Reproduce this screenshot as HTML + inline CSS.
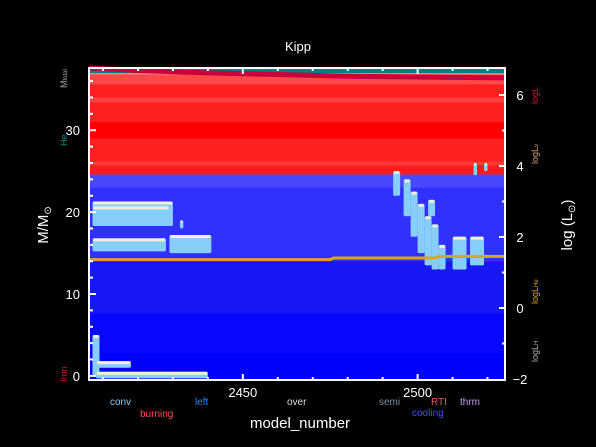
<!DOCTYPE html>
<html><head><meta charset="utf-8"><style>
html,body{margin:0;padding:0;background:#000;}
svg{display:block;font-family:"Liberation Sans",sans-serif;}
</style></head><body>
<svg id="c" width="596" height="447" viewBox="0 0 596 447">
<g id="plot"></g>
<g id="axes"></g>
<text x="298" y="51" fill="#fff" font-size="13" text-anchor="middle">Kipp</text>
<text x="300" y="428" fill="#fff" font-size="15" text-anchor="middle">model_number</text>
<text transform="translate(48,225) rotate(-90)" fill="#fff" font-size="15" text-anchor="middle">M/M<tspan font-size="10" dy="3">⊙</tspan></text>
<text transform="translate(572,225) rotate(-90)" fill="#fff" font-size="15" text-anchor="middle">log (L<tspan font-size="10" dy="3">⊙</tspan><tspan dy="-3">)</tspan></text>
<g font-size="10">
<text x="110" y="405" fill="#87cefa">conv</text>
<text x="140" y="417" fill="#ff5050">burning</text>
<text x="195" y="405" fill="#1e90ff">left</text>
<text x="287" y="405" fill="#ddd">over</text>
<text x="379" y="405" fill="#8090a0">semi</text>
<text x="431" y="405" fill="#e06060">RTI</text>
<text x="460" y="405" fill="#c0a0f0">thrm</text>
<text x="412" y="416" fill="#4050ff">cooling</text>
</g>
<g font-size="9">
<text transform="translate(67,88) rotate(-90)" fill="#aaa">M<tspan font-size="6">total</tspan></text>
<text transform="translate(67,146) rotate(-90)" fill="#008b8b">He</text>
<text transform="translate(67,382) rotate(-90)" fill="#dc143c">Iron</text>
<text transform="translate(538,104) rotate(-90)" fill="#dc143c">logL</text>
<text transform="translate(538,164) rotate(-90)" fill="#d2a070">logL<tspan font-size="6">ν</tspan></text>
<text transform="translate(538,304) rotate(-90)" fill="#daa520">logL<tspan font-size="6">He</tspan></text>
<text transform="translate(538,362) rotate(-90)" fill="#aaa">logL<tspan font-size="6">H</tspan></text>
</g>
</svg>
<script>
const xMin=2406,xMax=2525,mMin=-0.5,mMax=37.6;
const X0=89,X1=505,Y0=68,Y1=380;
const layerTops=[37.6,36.8,35.6,34.0,33.4,31.0,29.0,26.2,25.7,24.6,23.0,14.0,7.7,2.8];
const layerColors=["#ff7a7a","#ff4848","#ff2020","#ff4040","#ff2020","#ff0000","#ff2020","#ff3838","#ff1c1c","#4848ff","#3030ff","#1818f4","#0808ff","#0000ff"];
const heModels=[2406,2475,2476,2505,2506,2525];
const heMass=[14.2,14.2,14.4,14.4,14.6,14.6];
const topRedModels=[2406,2420,2440,2460,2480,2500,2525];
const topRedMass=[37.6,37.3,37.0,36.8,36.6,36.5,36.4];
const convModel0=[2407,2407,2432,2407,2429,2407,2408,2408,2493,2496,2498,2500,2502,2504,2506,2503,2510,2515,2516,2519];
const convModel1=[2430,2429,2433,2428,2441,2409,2418,2440,2495,2498,2500,2502,2504,2506,2508,2505,2514,2519,2517,2520];
const convTop=[21.3,20.7,19.0,16.8,17.2,5.0,1.8,0.5,25.0,24.0,22.5,21.0,19.5,18.5,16.0,21.5,17.0,17.0,26.0,26.0];
const convBot=[18.3,18.5,18.0,15.2,15.0,0.0,1.0,-0.3,22.0,19.5,17.0,15.0,13.5,13.0,13.0,19.5,13.0,13.5,24.5,25.0];
const xs=m=>X0+(m-xMin)/(xMax-xMin)*(X1-X0);
const ys=v=>Y1-(v-mMin)/(mMax-mMin)*(Y1-Y0);
const NS="http://www.w3.org/2000/svg";
const plot=document.getElementById('plot'),axes=document.getElementById('axes');
function mk(tag,a,p){const e=document.createElementNS(NS,tag);for(const k in a)e.setAttribute(k,a[k]);p.appendChild(e);return e;}
for(let i=0;i<layerTops.length;i++){
  const top=layerTops[i],bot=i+1<layerTops.length?layerTops[i+1]:mMin;
  const r=mk('rect',{x:X0,y:ys(top),width:X1-X0,height:ys(bot)-ys(top)+0.5,fill:layerColors[i]},plot);
  
  
}
const tr=mk('rect',{x:X0,y:Y0,width:X1-X0,height:5,fill:"#008080"},plot);


let pts=topRedModels.map((m,i)=>xs(m)+","+ys(topRedMass[i])).join(" ");
const topR=mk('polyline',{points:pts,fill:"none",stroke:"#c8003c","stroke-width":5},plot);


for(let i=0;i<convModel0.length;i++){
  const x=xs(convModel0[i]),w=Math.max(3,xs(convModel1[i])-x),y=ys(convTop[i]),h=ys(convBot[i])-y;
  const c=mk('rect',{x:x,y:y,width:w,height:h,fill:"#87cefa",rx:1.5},plot);
  
  
  const e=mk('rect',{x:x+1,y:y,width:Math.max(1,w-2),height:Math.min(3,h),fill:"#f0f0d8"},plot);
  
  
}
pts=heModels.map((m,i)=>xs(m)+","+ys(heMass[i])).join(" ");
const he=mk('polyline',{points:pts,fill:"none",stroke:"#daa520","stroke-width":3},plot);


const fr=mk('rect',{x:X0,y:Y0,width:X1-X0,height:Y1-Y0,fill:"none",stroke:"#fff","stroke-width":2},axes);


const leftTicks=[0,10,20,30];
for(let v=0;v<=36;v+=2){const y=ys(v),maj=v%10===0;
  const t=mk('line',{x1:X0,x2:X0+(maj?7:4),y1:y,y2:y,stroke:"#fff","stroke-width":2},axes);
  }
leftTicks.forEach(v=>{const t=mk('text',{x:80,y:ys(v)+5,fill:"#fff","font-size":13,"text-anchor":"end"},axes);t.textContent=v;
  });
const xTicks=[2450,2500];
for(let v=2410;v<=2520;v+=10){const x=xs(v),maj=v%50===0;
  [[Y1,Y1-(maj?6:3)],[Y0,Y0+(maj?6:3)]].forEach(p=>{const t=mk('line',{x1:x,x2:x,y1:p[0],y2:p[1],stroke:"#fff","stroke-width":2},axes);
  });}
xTicks.forEach(v=>{const t=mk('text',{x:xs(v),y:397,fill:"#fff","font-size":13,"text-anchor":"middle"},axes);t.textContent=v;
  });
const lMin=-2,ly=v=>379-(v-lMin)/(4-lMin)*(379-166);
const rightTicks=[-2,0,2,4,6];
for(let v=-1;v<=6;v++){const y=ly(v),maj=v%2===0;
  const t=mk('line',{x1:X1,x2:X1-(maj?6:3),y1:y,y2:y,stroke:"#fff","stroke-width":2},axes);
  }
rightTicks.forEach(v=>{const t=mk('text',{x:520,y:ly(v)+5,fill:"#fff","font-size":13,"text-anchor":"middle"},axes);t.textContent=v<0?"−"+(-v):v;
  });
</script>
</body></html>
